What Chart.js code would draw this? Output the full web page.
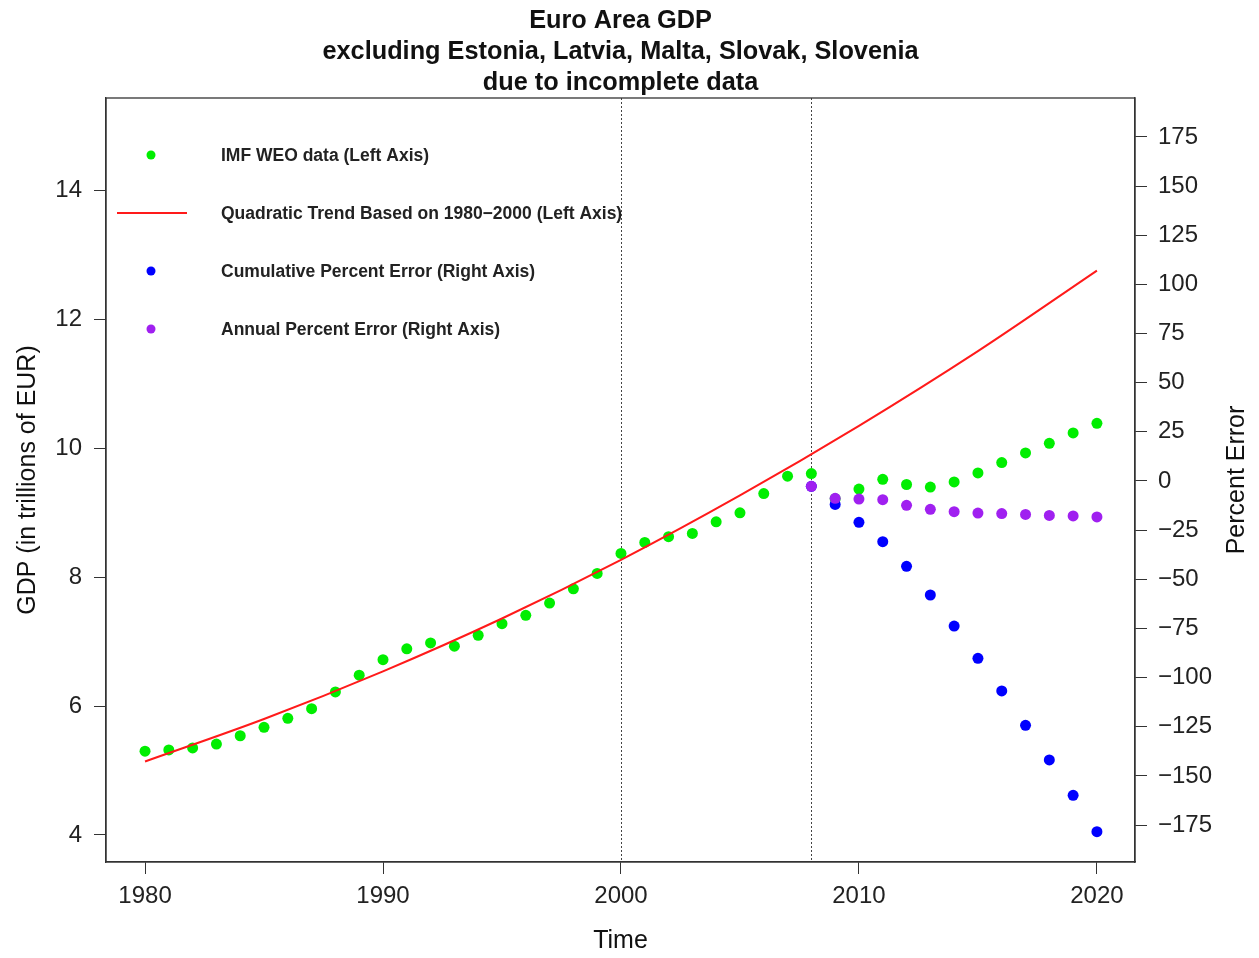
<!DOCTYPE html>
<html>
<head>
<meta charset="utf-8">
<script src="https://cdn.jsdelivr.net/npm/chart.js@4.4.1/dist/chart.umd.min.js"></script>
<style>
  html, body { margin: 0; background: #fff; }
  #wrap { width: 1259px; height: 958px; }
</style>
</head>
<body>
<div id="wrap"><canvas id="chart"></canvas></div>
<script>
// Euro Area GDP vs quadratic trend, with percent error on the right axis

const years = [1980, 1981, 1982, 1983, 1984, 1985, 1986, 1987, 1988, 1989,
               1990, 1991, 1992, 1993, 1994, 1995, 1996, 1997, 1998, 1999,
               2000, 2001, 2002, 2003, 2004, 2005, 2006, 2007, 2008, 2009,
               2010, 2011, 2012, 2013, 2014, 2015, 2016, 2017, 2018, 2019, 2020];
const gdp = [5.30, 5.32, 5.35, 5.41, 5.54, 5.67, 5.81, 5.96, 6.22, 6.48,
             6.72, 6.89, 6.98, 6.93, 7.10, 7.28, 7.41, 7.60, 7.82, 8.06,
             8.37, 8.54, 8.63, 8.68, 8.86, 9.00, 9.30, 9.57, 9.61, 9.22,
             9.37, 9.52, 9.44, 9.40, 9.48, 9.62, 9.78, 9.93, 10.08, 10.24, 10.39];

const trendYears = [1980, 1985, 1990, 1995, 2000, 2005, 2010, 2015, 2020];
const trend = [5.14, 5.80, 6.54, 7.36, 8.27, 9.27, 10.35, 11.51, 12.76];

const errYears = [2008, 2009, 2010, 2011, 2012, 2013, 2014, 2015, 2016, 2017, 2018, 2019, 2020];
const cumErr = [-2.7, -11.9, -21.0, -30.9, -43.4, -58.0, -73.8, -90.2, -106.8, -124.3, -141.9, -159.9, -178.4];
const annErr = [-2.7, -8.8, -9.2, -9.5, -12.4, -14.4, -15.6, -16.3, -16.6, -17.0, -17.5, -17.8, -18.3];

const xTicks = [1980, 1990, 2000, 2010, 2020];
const leftTicks = [4, 6, 8, 10, 12, 14];
const rightTicks = [-175, -150, -125, -100, -75, -50, -25, 0, 25, 50, 75, 100, 125, 150, 175];
const markerYears = [2000, 2008];

const titleLines = ['Euro Area GDP', 'excluding Estonia, Latvia, Malta, Slovak, Slovenia', 'due to incomplete data'];
const legendLabels = ['IMF WEO data (Left Axis)', 'Quadratic Trend Based on 1980\u22122000 (Left Axis)',
                      'Cumulative Percent Error (Right Axis)', 'Annual Percent Error (Right Axis)'];
const rightTitle = 'Percent Error';

const GREEN = '#00ee00', RED = '#ff1a1a', BLUE = '#0000ff', PURPLE = '#a020f0';
const FONT = '"Liberation Sans", Arial, sans-serif';

Chart.defaults.font.family = FONT;
Chart.defaults.color = '#222';

const pts = (xs, ys) => xs.map((x, i) => ({ x: x, y: ys[i] }));

const decor = {
  id: 'decor',
  beforeDatasetsDraw(chart) {
    const { ctx, chartArea: a, scales } = chart;
    ctx.save();
    ctx.strokeStyle = '#444';
    ctx.lineWidth = 1;
    ctx.setLineDash([2, 2]);
    markerYears.forEach(yr => {
      const x = Math.round(scales.x.getPixelForValue(yr)) + 0.5;
      ctx.beginPath();
      ctx.moveTo(x, a.top);
      ctx.lineTo(x, a.bottom);
      ctx.stroke();
    });
    ctx.restore();
  },
  afterDraw(chart) {
    const { ctx, chartArea: a } = chart;
    ctx.save();
    // box
    ctx.strokeStyle = '#333';
    ctx.lineWidth = 1.3;
    ctx.strokeRect(a.left, a.top, a.right - a.left, a.bottom - a.top);

    // title
    ctx.fillStyle = '#111';
    ctx.font = 'bold 25.3px ' + FONT;
    ctx.textAlign = 'center';
    ctx.textBaseline = 'middle';
    const cx = (a.left + a.right) / 2;
    titleLines.forEach((t, i) => ctx.fillText(t, cx, 21 + i * 31));

    // right axis title, reading upwards like R's
    ctx.save();
    ctx.font = '25px ' + FONT;
    ctx.translate(1237, (a.top + a.bottom) / 2);
    ctx.rotate(-Math.PI / 2);
    ctx.fillText(rightTitle, 0, 0);
    ctx.restore();

    // legend
    const colors = [GREEN, RED, BLUE, PURPLE];
    ctx.font = 'bold 17.5px ' + FONT;
    ctx.textAlign = 'left';
    legendLabels.forEach((t, i) => {
      const y = a.top + 57 + i * 58;
      if (i === 1) {
        ctx.strokeStyle = RED;
        ctx.lineWidth = 2;
        ctx.beginPath();
        ctx.moveTo(a.left + 11, y);
        ctx.lineTo(a.left + 81, y);
        ctx.stroke();
      } else {
        ctx.fillStyle = colors[i];
        ctx.beginPath();
        ctx.arc(a.left + 45, y, 4.5, 0, Math.PI * 2);
        ctx.fill();
      }
      ctx.fillStyle = '#222';
      ctx.fillText(t, a.left + 115, y + 1);
    });
    ctx.restore();
  }
};

const axisGrid = { drawOnChartArea: false, drawTicks: true, tickLength: 12, tickColor: '#333', tickWidth: 1 };

new Chart(document.getElementById('chart'), {
  type: 'scatter',
  data: {
    datasets: [
      { label: 'Annual Percent Error', data: pts(errYears, annErr), yAxisID: 'y1', order: 0,
        backgroundColor: PURPLE, borderColor: PURPLE, pointRadius: 5.5, borderWidth: 0 },
      { label: 'Cumulative Percent Error', data: pts(errYears, cumErr), yAxisID: 'y1', order: 1,
        backgroundColor: BLUE, borderColor: BLUE, pointRadius: 5.5, borderWidth: 0 },
      { label: 'Quadratic Trend', type: 'line', data: pts(trendYears, trend), yAxisID: 'y', order: 2,
        borderColor: RED, borderWidth: 2, pointRadius: 0, cubicInterpolationMode: 'monotone', fill: false },
      { label: 'IMF WEO data', data: pts(years, gdp), yAxisID: 'y', order: 3,
        backgroundColor: GREEN, borderColor: GREEN, pointRadius: 5.5, borderWidth: 0 }
    ]
  },
  options: {
    responsive: true,
    maintainAspectRatio: false,
    animation: false,
    layout: { padding: { top: 98, left: 0, right: 0, bottom: 0 } },
    plugins: { legend: { display: false }, tooltip: { enabled: false }, title: { display: false } },
    scales: {
      x: {
        type: 'linear', position: 'bottom', min: 1978.36, max: 2021.6,
        afterBuildTicks: s => { s.ticks = xTicks.map(v => ({ value: v })); },
        afterFit: s => { s.height = 96; },
        grid: axisGrid,
        border: { display: true, color: '#333', width: 1.3 },
        ticks: { autoSkip: false, maxRotation: 0, padding: 8, font: { size: 24 }, color: '#222',
                 callback: v => String(v) },
        title: { display: true, text: 'Time', font: { size: 25 }, color: '#111', padding: { top: 0, bottom: 2 } }
      },
      y: {
        type: 'linear', position: 'left', min: 3.58, max: 15.44,
        afterBuildTicks: s => { s.ticks = leftTicks.map(v => ({ value: v })); },
        afterFit: s => { s.width = 106; },
        grid: axisGrid,
        border: { display: true, color: '#333', width: 1.3 },
        ticks: { autoSkip: false, padding: 12, font: { size: 24 }, color: '#222', callback: v => String(v) },
        title: { display: true, text: 'GDP (in trillions of EUR)', font: { size: 25 }, color: '#111',
                 padding: { top: 13, bottom: 0 } }
      },
      y1: {
        type: 'linear', position: 'right', min: -193.8, max: 194.8,
        afterBuildTicks: s => { s.ticks = rightTicks.map(v => ({ value: v })); },
        afterFit: s => { s.width = 124; },
        grid: axisGrid,
        border: { display: true, color: '#333', width: 1.3 },
        ticks: { autoSkip: false, padding: 11, font: { size: 24 }, color: '#222',
                 callback: v => (v < 0 ? '\u2212' + Math.abs(v) : String(v)) },
        title: { display: false }
      }
    }
  },
  plugins: [decor]
});
</script>
</body>
</html>
